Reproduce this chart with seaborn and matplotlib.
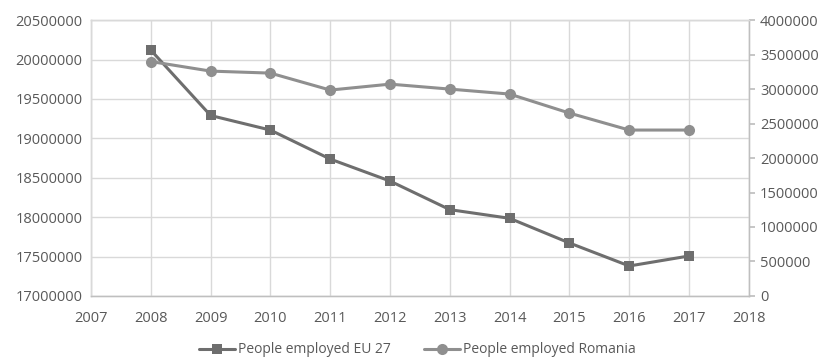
import matplotlib
matplotlib.use("Agg")
import matplotlib.pyplot as plt
import seaborn as sns
import pandas as pd
from matplotlib.lines import Line2D

years = [2008, 2009, 2010, 2011, 2012, 2013, 2014, 2015, 2016, 2017]
eu27 = [20120000, 19290000, 19105000, 18737000, 18458000, 18095000, 17985000, 17672000, 17380000, 17507000]
romania = [3400000, 3261000, 3232000, 2986000, 3072000, 3000000, 2928000, 2652000, 2406000, 2406000]
label_eu = "People employed EU 27"
label_ro = "People employed Romania"

sns.set_theme(style="white")
plt.rcParams['font.family'] = ['Open Sans', 'DejaVu Sans']

df = pd.DataFrame({"year": years, "eu": eu27, "ro": romania})

c_eu = "#6e6e6e"
c_ro = "#8f8f8f"
grid_c = "#d9d9d9"
text_c = "#595959"

fig = plt.figure(figsize=(8.22, 3.6), dpi=100)
ax = fig.add_axes([0.1107, 0.178, 0.8003, 0.766])
ax2 = ax.twinx()

sns.lineplot(data=df, x="year", y="eu", ax=ax, color=c_eu, marker="s", markersize=7,
             markeredgewidth=0, linewidth=2.2, zorder=3)
sns.lineplot(data=df, x="year", y="ro", ax=ax2, color=c_ro, marker="o", markersize=8,
             markeredgewidth=0, linewidth=2.2, zorder=3)

ax.set_xlim(2007, 2018)
ax.set_ylim(17000000, 20500000)
ax2.set_ylim(0, 4000000)
ax.set_xticks(range(2007, 2019))
ax.set_yticks(range(17000000, 20500001, 500000))
ax2.set_yticks(range(0, 4000001, 500000))
ax.ticklabel_format(style="plain", axis="y", useOffset=False)
ax2.ticklabel_format(style="plain", axis="y", useOffset=False)

ax.grid(True, color=grid_c, linewidth=1.0)
ax.set_axisbelow(True)
ax2.grid(False)
ax.set_xlabel("")
ax.set_ylabel("")
ax2.set_ylabel("")

for a in (ax, ax2):
    for s in a.spines.values():
        s.set_color(grid_c)
        s.set_linewidth(1.0)
ax2.spines["right"].set_color("#bfbfbf")
ax2.spines["bottom"].set_color("#bfbfbf")

ax.tick_params(axis="both", length=0, labelsize=10.5, labelcolor=text_c, pad=6)
ax.tick_params(axis="x", pad=11)
ax2.tick_params(axis="y", length=4, color="#bfbfbf", labelsize=10.5, labelcolor=text_c, pad=4, direction="out")

if ax.get_legend():
    ax.get_legend().remove()
if ax2.get_legend():
    ax2.get_legend().remove()

handles = [Line2D([0], [0], color=c_eu, marker="s", markersize=7, markeredgewidth=0, linewidth=2.2),
           Line2D([0], [0], color=c_ro, marker="o", markersize=8, markeredgewidth=0, linewidth=2.2)]
fig.legend(handles, [label_eu, label_ro], loc="center", bbox_to_anchor=(0.508, 0.028), ncol=2,
           frameon=False, fontsize=10, labelcolor=text_c, handlelength=2.6, columnspacing=2.4,
           handletextpad=0.2)

fig.savefig("out.png", dpi=100)
